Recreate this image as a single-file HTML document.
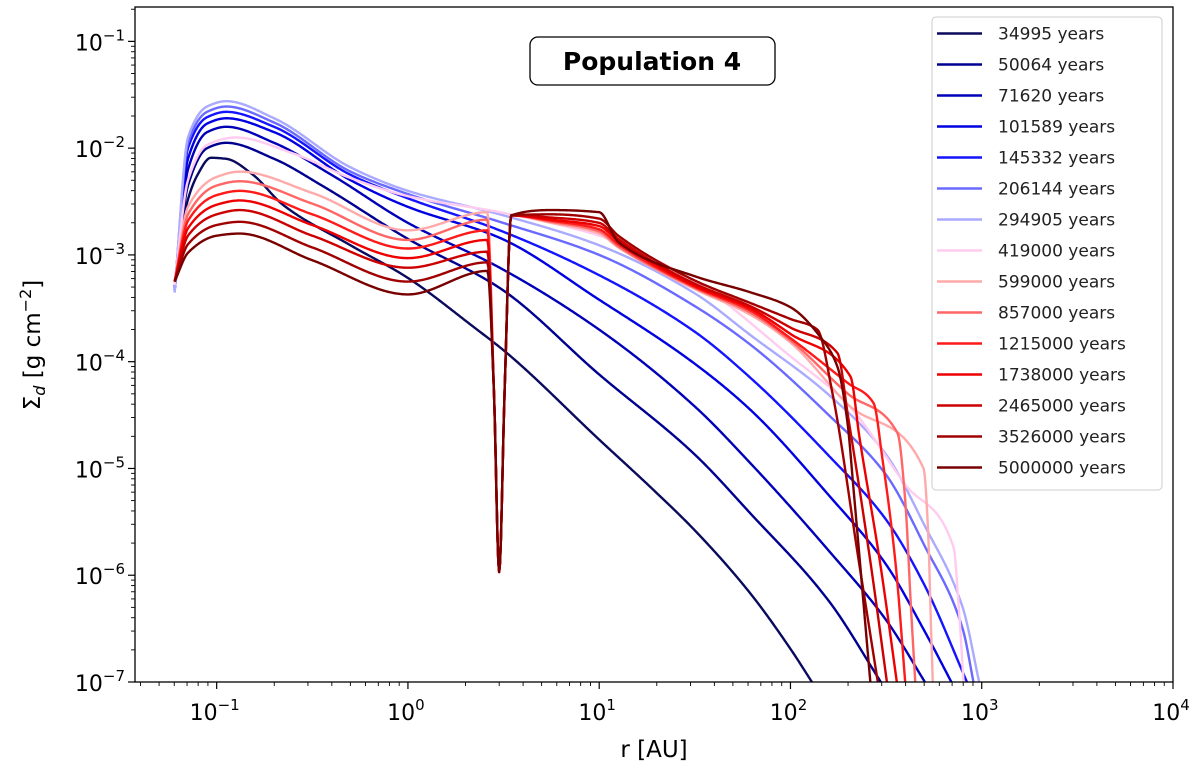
<!DOCTYPE html>
<html><head><meta charset="utf-8"><style>
body{margin:0;background:#fff}
svg{display:block;font-family:"DejaVu Sans","Liberation Sans",sans-serif}
</style></head><body>
<svg id="chart" width="1200" height="769" viewBox="0 0 1200 769" xmlns="http://www.w3.org/2000/svg">
<defs><clipPath id="plotclip"><rect x="135" y="7" width="1038" height="675"/></clipPath></defs>
<rect width="1200" height="769" fill="#fff"/>
<g id="series" clip-path="url(#plotclip)"></g>
<rect x="135" y="7" width="1038" height="675" fill="none" stroke="#000" stroke-width="1.3"/>
<g id="axes"></g>
<text x="654" y="757" font-size="23" text-anchor="middle">r [AU]</text>
<text transform="translate(40,345) rotate(-90)" font-size="23" text-anchor="middle">Σ<tspan font-style="italic" font-size="16" dy="5">d</tspan><tspan dy="-5"> [g cm</tspan><tspan font-size="16" dy="-9">−2</tspan><tspan dy="9">]</tspan></text>
<g>
<rect x="530" y="37" width="245" height="48" rx="8" fill="#fff" stroke="#000" stroke-width="1.3"/>
<text x="652" y="70" font-size="25" font-weight="bold" text-anchor="middle">Population 4</text>
</g>
<g id="legend">
<rect x="932" y="17" width="230" height="473" rx="4" fill="#fff" fill-opacity="0.85" stroke="#ccc" stroke-width="1"/>
</g>
</svg>
<script>
const seriesLabels = ["34995 years","50064 years","71620 years","101589 years","145332 years","206144 years","294905 years","419000 years","599000 years","857000 years","1215000 years","1738000 years","2465000 years","3526000 years","5000000 years"];
const seriesColors = ["#0a0a5e","#000090","#0000b8","#0000e0","#1414ff","#6a6aff","#aaaaff","#ffccf0","#ffaaaa","#ff6666","#ff1a1a","#ee0000","#cc0000","#a00000","#780000"];
// log10(r [AU]) and log10(sigma [g cm^-2])
const logR0 = [-1.22,-1.17,-1.1,-1.03,-0.95,-0.81,-0.654,-0.3,-0.005,0.34,0.518,1.0,1.283,1.5,1.79,2.0,2.13];
const logS0 = [-3.31,-2.62,-2.25,-2.09,-2.1,-2.25,-2.53,-2.91,-3.21,-3.67,-3.92,-4.73,-5.20,-5.58,-6.17,-6.69,-7.05];
const logR1 = [-1.22,-1.15,-1.05,-0.95,-0.7,-0.45,0,0.48,1.0,1.5,1.79,2.2,2.49];
const logS1 = [-3.33,-2.35,-2.0,-1.95,-2.1,-2.35,-2.85,-3.31,-4.12,-4.87,-5.42,-6.24,-7.05];
const logR2 = [-1.22,-1.15,-1.05,-0.95,-0.7,-0.4,0,0.48,1.0,1.5,1.79,2.2,2.5,2.72];
const logS2 = [-3.33,-2.2,-1.85,-1.8,-1.95,-2.25,-2.7,-3.12,-3.7,-4.42,-4.95,-5.77,-6.42,-7.05];
const logR3 = [-1.22,-1.15,-1.05,-0.95,-0.7,-0.3,0,0.48,1.0,1.5,1.79,2.2,2.5,2.7,2.85];
const logS3 = [-3.33,-2.1,-1.77,-1.72,-1.85,-2.3,-2.55,-2.84,-3.42,-4.02,-4.45,-5.25,-5.9,-6.52,-7.03];
const logR4 = [-1.22,-1.15,-1.05,-0.95,-0.7,-0.3,0,0.48,1.0,1.5,1.79,2.2,2.5,2.7,2.93];
const logS4 = [-3.33,-2.0,-1.71,-1.66,-1.8,-2.25,-2.47,-2.77,-3.19,-3.72,-4.15,-4.88,-5.48,-6.09,-7.03];
const logR5 = [-1.22,-1.15,-1.05,-0.95,-0.7,-0.3,0,0.48,1.0,1.5,1.79,2.2,2.5,2.7,2.9,2.96];
const logS5 = [-3.35,-1.95,-1.66,-1.61,-1.76,-2.22,-2.43,-2.69,-3.0,-3.48,-3.84,-4.5,-5.06,-5.72,-6.5,-7.03];
const logR6 = [-1.22,-1.15,-1.05,-0.95,-0.7,-0.3,0,0.48,1.0,1.5,1.79,2.2,2.5,2.7,2.9,2.99];
const logS6 = [-3.35,-1.9,-1.61,-1.56,-1.72,-2.18,-2.40,-2.62,-2.91,-3.36,-3.75,-4.31,-4.87,-5.53,-6.3,-7.03];
const logR7 = [-1.22,-1.15,-1.05,-0.9,-0.6,-0.3,0,0.48,1.0,1.5,2.0,2.3,2.6,2.853,2.88,2.906];
const logS7 = [-3.28,-2.3,-1.97,-1.9,-2.05,-2.28,-2.45,-2.6,-2.82,-3.25,-3.95,-4.4,-5.15,-5.74,-6.3,-7.03];
const redInnerR = [-1.22,-1.15,-1.0,-0.88,-0.5,0,0.415,0.45,0.477,0.505,0.54,0.75,1.0,1.1,1.5,1.79,2.0];
const logR8 = redInnerR.concat([2.3,2.696,2.72,2.735,2.745]);
const logS8 = [-3.25,-2.55,-2.27,-2.22,-2.42,-2.77,-2.6,-4.3,-5.97,-4.3,-2.63,-2.70,-2.80,-2.93,-3.32,-3.56,-3.82,-4.4,-5.0,-5.6,-6.5,-7.05];
const logR9 = redInnerR.concat([2.3,2.56,2.6,2.63,2.654]);
const logS9 = [-3.25,-2.62,-2.35,-2.31,-2.52,-2.86,-2.67,-4.3,-5.97,-4.3,-2.63,-2.69,-2.78,-2.92,-3.31,-3.54,-3.8,-4.3,-4.67,-5.3,-6.3,-7.05];
const logR10 = redInnerR.concat([2.3,2.435,2.48,2.55,2.602]);
const logS10 = [-3.25,-2.68,-2.44,-2.40,-2.62,-2.94,-2.77,-4.3,-5.97,-4.3,-2.63,-2.68,-2.76,-2.9,-3.3,-3.52,-3.78,-4.2,-4.39,-4.9,-5.9,-7.05];
const logR11 = redInnerR.concat([2.314,2.36,2.47,2.56]);
const logS11 = [-3.25,-2.75,-2.53,-2.49,-2.72,-3.03,-2.86,-4.3,-5.97,-4.3,-2.63,-2.67,-2.73,-2.87,-3.29,-3.5,-3.74,-4.14,-4.7,-5.9,-7.05];
const logR12 = redInnerR.concat([2.246,2.3,2.42,2.508]);
const logS12 = [-3.25,-2.82,-2.62,-2.58,-2.82,-3.12,-2.97,-4.3,-5.97,-4.3,-2.63,-2.65,-2.70,-2.85,-3.27,-3.48,-3.68,-3.92,-4.5,-5.9,-7.05];
const logR13 = redInnerR.concat([2.141,2.22,2.36,2.461]);
const logS13 = [-3.25,-2.9,-2.72,-2.69,-2.93,-3.25,-3.07,-4.3,-5.97,-4.3,-2.63,-2.62,-2.66,-2.82,-3.24,-3.45,-3.6,-3.70,-4.3,-5.9,-7.05];
const logR14 = redInnerR.concat([2.157,2.246,2.298,2.33,2.42]);
const logS14 = [-3.25,-2.98,-2.82,-2.80,-3.05,-3.37,-3.15,-4.3,-5.97,-4.3,-2.63,-2.58,-2.60,-2.88,-3.2,-3.35,-3.49,-3.77,-4.05,-4.57,-5.2,-7.05];
const xTickExps = [-1,0,1,2,3,4];
const yTickExps = [-7,-6,-5,-4,-3,-2,-1];
const xDomain = [-1.427, 4];
const yDomain = [-7, -0.678];

const NS = "http://www.w3.org/2000/svg";
const PL = 135, PR = 1173, PT = 7, PB = 682;
function xScale(lr){ return PL + (lr - xDomain[0]) / (xDomain[1] - xDomain[0]) * (PR - PL); }
function yScale(ls){ return PB - (ls - yDomain[0]) / (yDomain[1] - yDomain[0]) * (PB - PT); }
function mk(tag, attrs){ const e = document.createElementNS(NS, tag); for (const k in attrs) e.setAttribute(k, attrs[k]); return e; }

const allR = [logR0,logR1,logR2,logR3,logR4,logR5,logR6,logR7,logR8,logR9,logR10,logR11,logR12,logR13,logR14];
const allS = [logS0,logS1,logS2,logS3,logS4,logS5,logS6,logS7,logS8,logS9,logS10,logS11,logS12,logS13,logS14];

function monotonePath(xs, ys){
  const n = xs.length, d = [], m = new Array(n);
  for (let i = 0; i < n - 1; i++) d.push((ys[i+1]-ys[i])/(xs[i+1]-xs[i]));
  m[0] = d[0]; m[n-1] = d[n-2];
  for (let i = 1; i < n - 1; i++){
    if (d[i-1]*d[i] <= 0) m[i] = 0;
    else { const w1 = 2*(xs[i+1]-xs[i]) + (xs[i]-xs[i-1]), w2 = (xs[i+1]-xs[i]) + 2*(xs[i]-xs[i-1]);
      m[i] = (w1 + w2) / (w1/d[i-1] + w2/d[i]); }
  }
  let pts = [];
  for (let i = 0; i < n - 1; i++){
    const h = xs[i+1]-xs[i];
    const steps = Math.max(2, Math.ceil((xScale(xs[i+1]) - xScale(xs[i])) / 1.0));
    for (let k = (i === 0 ? 0 : 1); k <= steps; k++){
      const t = k/steps, t2 = t*t, t3 = t2*t;
      const y = (2*t3-3*t2+1)*ys[i] + (t3-2*t2+t)*h*m[i] + (-2*t3+3*t2)*ys[i+1] + (t3-t2)*h*m[i+1];
      const x = xs[i] + t*h;
      pts.push(xScale(x).toFixed(2) + "," + yScale(y).toFixed(2));
    }
  }
  return "M" + pts.join(" L");
}
const sg = document.getElementById("series");
for (let i = 0; i < allR.length; i++){
  const p = mk("path", {d: monotonePath(allR[i], allS[i]), fill: "none", stroke: seriesColors[i], "stroke-width": 2.4, "stroke-linejoin": "round"});
  
  
  sg.appendChild(p);
}

const ax = document.getElementById("axes");


function tickLabel(x, y, exp, anchor){
  const t = mk("text", {x: x, y: y, "font-size": 22, "text-anchor": anchor, fill: "#000"});
  
  
  t.textContent = "10";
  const s = mk("tspan", {"font-size": 15, dy: -10});
  s.textContent = (exp < 0 ? "\u2212" + (-exp) : String(exp));
  t.appendChild(s);
  ax.appendChild(t);
}
for (let e = -2; e <= 4; e++){
  if (e >= xDomain[0] && e <= xDomain[1]){
    const x = xScale(e);
    ax.appendChild(mk("line", {x1: x, x2: x, y1: PB, y2: PB + 7, stroke: "#000", "stroke-width": 1.2}));
  }
  for (let m = 2; m <= 9; m++){
    const lr = e + Math.log10(m);
    if (lr > xDomain[0] && lr < xDomain[1]){
      const x = xScale(lr);
      ax.appendChild(mk("line", {x1: x, x2: x, y1: PB, y2: PB + 4, stroke: "#000", "stroke-width": 0.9}));
    }
  }
}
xTickExps.forEach(e => tickLabel(xScale(e) - 2, PB + 38, e, "middle"));
for (let e = -8; e <= 0; e++){
  if (e >= yDomain[0] && e <= yDomain[1]){
    const y = yScale(e);
    ax.appendChild(mk("line", {x1: PL - 7, x2: PL, y1: y, y2: y, stroke: "#000", "stroke-width": 1.2}));
  }
  for (let m = 2; m <= 9; m++){
    const ls = e + Math.log10(m);
    if (ls > yDomain[0] && ls < yDomain[1]){
      const y = yScale(ls);
      ax.appendChild(mk("line", {x1: PL - 4, x2: PL, y1: y, y2: y, stroke: "#000", "stroke-width": 0.9}));
    }
  }
}
yTickExps.forEach(e => tickLabel(PL - 10, yScale(e) + 9, e, "end"));

const lg = document.getElementById("legend");
for (let i = 0; i < seriesLabels.length; i++){
  const y = 33.5 + i * 31;
  const g = mk("g", {});
  
  
  g.appendChild(mk("line", {x1: 937, x2: 982, y1: y, y2: y, stroke: seriesColors[i], "stroke-width": 2.4}));
  const t = mk("text", {x: 998, y: y + 6, "font-size": 17, fill: "#222"});
  t.textContent = seriesLabels[i];
  g.appendChild(t);
  lg.appendChild(g);
}
</script>
</body></html>
